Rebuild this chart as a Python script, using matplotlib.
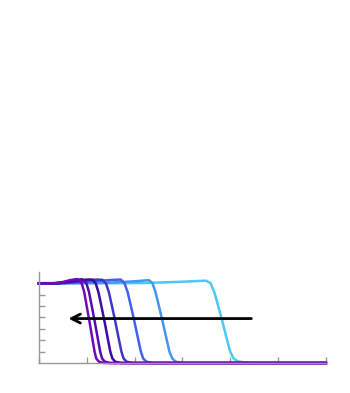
import matplotlib
matplotlib.use("Agg")
import matplotlib.pyplot as plt

# Curves ordered from the right-most (light blue) to the left-most (purple)
x_c7 = [0, 1.5, 2.2, 2.8, 3.2, 3.4, 3.50, 3.59, 3.67, 3.75, 3.84, 3.93, 4.00, 4.07, 4.16, 4.32, 4.6, 6.0]
y_c7 = [0.70, 0.70, 0.702, 0.71, 0.717, 0.721, 0.722, 0.70, 0.62, 0.50, 0.36, 0.21, 0.10, 0.04, 0.015, 0.004, 0.0, 0.0]

x_c6 = [0, 0.7, 1.3, 1.8, 2.1, 2.25, 2.31, 2.375, 2.44, 2.51, 2.59, 2.67, 2.73, 2.79, 2.86, 3.01, 6.0]
y_c6 = [0.70, 0.70, 0.703, 0.712, 0.72, 0.726, 0.725, 0.70, 0.62, 0.50, 0.36, 0.21, 0.10, 0.04, 0.012, 0.0, 0.0]

x_c5 = [0, 0.5, 0.9, 1.3, 1.55, 1.715, 1.791, 1.858, 1.924, 2.0, 2.076, 2.133, 2.18, 2.247, 2.38, 6.0]
y_c5 = [0.70, 0.70, 0.71, 0.722, 0.73, 0.732, 0.70, 0.62, 0.50, 0.36, 0.21, 0.10, 0.04, 0.012, 0.0, 0.0]

x_c4 = [0, 0.45, 0.75, 1.0, 1.2, 1.33, 1.402, 1.465, 1.528, 1.6, 1.672, 1.726, 1.771, 1.834, 1.96, 6.0]
y_c4 = [0.70, 0.70, 0.712, 0.725, 0.732, 0.73, 0.70, 0.62, 0.50, 0.36, 0.21, 0.10, 0.04, 0.012, 0.0, 0.0]

x_c3 = [0, 0.4, 0.65, 0.9, 1.05, 1.12, 1.188, 1.247, 1.307, 1.375, 1.443, 1.494, 1.537, 1.596, 1.715, 6.0]
y_c3 = [0.70, 0.70, 0.713, 0.728, 0.733, 0.73, 0.70, 0.62, 0.50, 0.36, 0.21, 0.10, 0.04, 0.012, 0.0, 0.0]

x_c2 = [0, 0.35, 0.55, 0.75, 0.9, 0.93, 0.994, 1.05, 1.106, 1.17, 1.234, 1.282, 1.322, 1.378, 1.49, 6.0]
y_c2 = [0.70, 0.70, 0.712, 0.728, 0.735, 0.73, 0.70, 0.62, 0.50, 0.36, 0.21, 0.10, 0.04, 0.012, 0.0, 0.0]

x_c1 = [0, 0.3, 0.5, 0.65, 0.8, 0.835, 0.895, 0.95, 1.0, 1.06, 1.12, 1.165, 1.20, 1.255, 1.36, 6.0]
y_c1 = [0.70, 0.70, 0.71, 0.727, 0.737, 0.725, 0.70, 0.62, 0.50, 0.36, 0.21, 0.10, 0.04, 0.012, 0.0, 0.0]

series_x = [x_c7, x_c6, x_c5, x_c4, x_c3, x_c2, x_c1]
series_y = [y_c7, y_c6, y_c5, y_c4, y_c3, y_c2, y_c1]
colors = ["#4cc9f0", "#4895ef", "#4361ee", "#3f37c9", "#3a0ca3", "#560bad", "#7209b7"]

x_ticks = [0, 1, 2, 3, 4, 5, 6]
y_ticks = [0.1, 0.2, 0.3, 0.4, 0.5, 0.6, 0.7]

arrow_start = (4.5, 0.39)
arrow_end = (0.56, 0.39)

fig = plt.figure(figsize=(3.5, 3.93), dpi=100)
ax = fig.add_axes([0.111, 0.0763, 0.82, 0.232])

for xs, ys, c in zip(series_x, series_y, colors):
    ax.plot(xs, ys, color=c, lw=1.8, solid_joinstyle="round", clip_on=False)

ax.annotate("", xy=arrow_end, xytext=arrow_start,
            arrowprops=dict(arrowstyle="->", color="black", lw=2.0, mutation_scale=16))

ax.set_xlim(0, 6)
ax.set_ylim(0, 0.8)
ax.set_xticks(x_ticks)
ax.set_yticks(y_ticks)
ax.set_xticklabels([])
ax.set_yticklabels([])
ax.tick_params(direction="in", length=4, color="#999999", width=1)
for s in ["top", "right"]:
    ax.spines[s].set_visible(False)
for s in ["left", "bottom"]:
    ax.spines[s].set_color("#999999")
    ax.spines[s].set_linewidth(1)

fig.savefig("out.png", dpi=100)
